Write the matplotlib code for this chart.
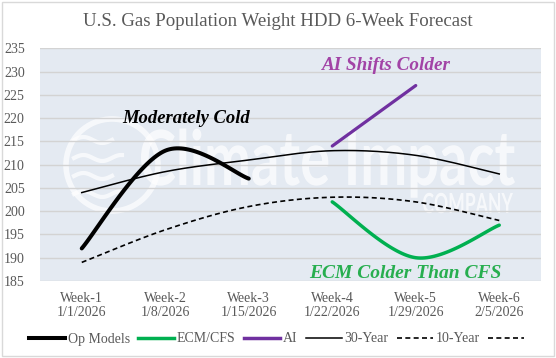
import matplotlib.pyplot as plt
from matplotlib.lines import Line2D
from matplotlib.patches import Circle, Rectangle, PathPatch
from matplotlib.textpath import TextPath
from matplotlib.font_manager import FontProperties
from matplotlib.transforms import Affine2D, IdentityTransform
import numpy as np

# chart data
weeks = ["Week-1\n1/1/2026", "Week-2\n1/8/2026", "Week-3\n1/15/2026",
         "Week-4\n1/22/2026", "Week-5\n1/29/2026", "Week-6\n2/5/2026"]
op_models = [192, 213, 207]
ecm_cfs = [202, 190, 197]          # weeks 4-6
ai = [214, 227]                    # weeks 4-5
year30 = [204, 208.5, 211, 213, 212, 208]
year10 = [189, 196, 201, 203, 202, 198]


def smooth(xs, ys, n=40):
    # Excel-style smoothed line (Bezier through the points)
    pts = np.column_stack([np.asarray(xs, float), np.asarray(ys, float)])
    out = []
    for i in range(len(pts) - 1):
        p0 = pts[i - 1] if i > 0 else pts[i]
        p1, p2 = pts[i], pts[i + 1]
        p3 = pts[i + 2] if i + 2 < len(pts) else pts[i + 1]
        c1 = p1 + (p2 - p0) / 6
        c2 = p2 - (p3 - p1) / 6
        t = np.linspace(0, 1, n)[:, None]
        seg = ((1 - t) ** 3) * p1 + 3 * ((1 - t) ** 2) * t * c1 + 3 * (1 - t) * t ** 2 * c2 + t ** 3 * p2
        out.append(seg if i == 0 else seg[1:])
    seg = np.vstack(out)
    return seg[:, 0], seg[:, 1]


def watermark_text(ax, s, x0, x1, base, cap, alpha):
    # text stretched into a box given in pixels (y from top of image)
    fp = FontProperties(family='Lato', weight='bold')
    tp = TextPath((0, 0), s, size=1, prop=fp)
    cap_h = TextPath((0, 0), "I", size=1, prop=fp).get_extents().y1
    ext = tp.get_extents()
    sx = (x1 - x0) / (ext.x1 - ext.x0)
    sy = (base - cap) / cap_h
    tr = Affine2D().translate(-ext.x0, 0).scale(sx, sy).translate(x0, 358 - base)
    ax.add_patch(PathPatch(tr.transform_path(tp), transform=IdentityTransform(),
                           fc='white', ec='none', alpha=alpha, zorder=1))


plt.rcParams['font.family'] = ['Liberation Serif', 'DejaVu Serif']

fig = plt.figure(figsize=(5.56, 3.58), dpi=100)
ax = fig.add_axes([40 / 556, 1 - 281 / 358, 501 / 556, 232.7 / 358])
ax.set_facecolor('#E4EAF2')

# watermark
watermark_text(ax, "Climate Impact", 141, 515, 185, 130, 0.7)
watermark_text(ax, "COMPANY", 423, 513, 213, 193, 0.7)
ax.add_patch(Circle((112, 358 - 165), 46, transform=IdentityTransform(), fill=False,
                    lw=4, ec='white', alpha=0.7, zorder=1))
for k, yy in enumerate([140, 158, 176, 194]):
    wx = np.linspace(74, 112 + 10 * (k % 2), 30)
    wy = 358 - yy + 3 * np.sin((wx - 74) / 6)
    ax.plot(wx, wy, color='white', lw=3, alpha=0.7, transform=IdentityTransform(), zorder=1)

x_all = np.arange(1, 7)
for yv in range(185, 236, 5):
    ax.axhline(yv, color='#D3D3D3', lw=1, zorder=2)

sx, sy = smooth(x_all, year30)
ax.plot(sx, sy, color='black', lw=1.1, zorder=3)
sx, sy = smooth(x_all, year10)
ax.plot(sx, sy, color='black', lw=1.2, ls=(0, (3, 2)), zorder=3)
sx, sy = smooth(x_all[:3], op_models)
ax.plot(sx, sy, color='black', lw=2.9, solid_capstyle='round', zorder=4)
sx, sy = smooth(x_all[3:], ecm_cfs)
ax.plot(sx, sy, color='#00B050', lw=2.5, solid_capstyle='round', zorder=4)
ax.plot(x_all[3:5], ai, color='#7030A0', lw=2.3, solid_capstyle='round', zorder=4)

ax.text(2.25, 220, "Moderately Cold", fontsize=13.4, fontweight='bold',
        style='italic', ha='center', va='center', color='black', zorder=5)
ax.text(4.65, 231.4, "AI Shifts Colder", fontsize=13.8, fontweight='bold',
        style='italic', ha='center', va='center', color='#A243A6', zorder=5)
ax.text(4.88, 186.6, "ECM Colder Than CFS", fontsize=14, fontweight='bold',
        style='italic', ha='center', va='center', color='#27AE4F', zorder=5)

ax.set_xlim(0.5, 6.5)
ax.set_ylim(185, 235)
ax.set_yticks(range(185, 236, 5))
ax.set_xticks(x_all)
ax.set_xticklabels(weeks, linespacing=1.05)
ax.tick_params(axis='both', length=0, labelsize=10, labelcolor='#595959')
ax.tick_params(axis='y', pad=11)
ax.tick_params(axis='x', pad=8)
for s in ax.spines.values():
    s.set_visible(False)

fig.text(0.5, 1 - 21 / 358, "U.S. Gas Population Weight HDD 6-Week Forecast",
         ha='center', va='center', fontsize=13.6, color='#595959')

handles = [
    Line2D([], [], color='black', lw=2.9),
    Line2D([], [], color='#00B050', lw=2.5),
    Line2D([], [], color='#7030A0', lw=2.5),
    Line2D([], [], color='black', lw=1.1),
    Line2D([], [], color='black', lw=1.2, ls=(0, (3, 2))),
    Line2D([], [], color='black', lw=1.2, ls=(0, (3, 2))),
]
labels = ["Op Models", "ECM/CFS", "AI", "30-Year", "10-Year", ""]
fig.legend(handles, labels, loc='center', bbox_to_anchor=(0.5, 1 - 339 / 358),
           ncol=6, frameon=False, fontsize=10, handlelength=2.6,
           handletextpad=0.2, columnspacing=0.6, labelcolor='#595959')

# chart border
fig.add_artist(Rectangle((0.004, 0.006), 0.992, 0.988, transform=fig.transFigure,
                         fill=False, ec='#D9D9D9', lw=1))

fig.savefig("out.png", dpi=100, facecolor='white')
